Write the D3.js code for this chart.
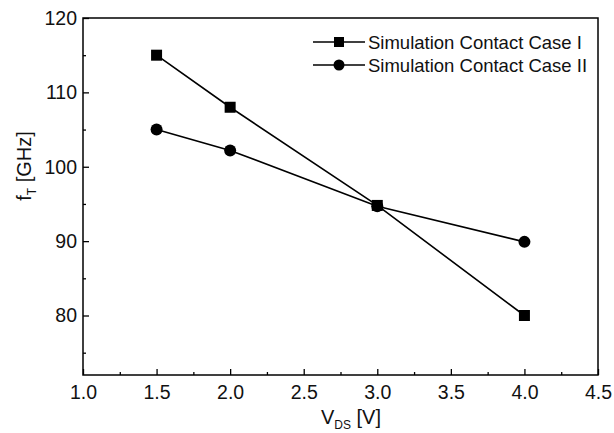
<!DOCTYPE html>
<html><head><meta charset="utf-8">
<script src="https://cdn.jsdelivr.net/npm/d3@7"></script>
<style>body{margin:0;background:#fff}svg{display:block}</style>
</head><body><svg id="c" width="614" height="433"></svg>
<script>
const vds = [1.5, 2.0, 3.0, 4.0];
const caseI = [115, 108, 94.8, 80];
const caseII = [105, 102.2, 94.7, 89.9];
const seriesNames = ["Simulation Contact Case I", "Simulation Contact Case II"];
const xTicks = [1.0, 1.5, 2.0, 2.5, 3.0, 3.5, 4.0, 4.5];
const yTicks = [80, 90, 100, 110, 120];
const xMinor = [1.25, 1.75, 2.25, 2.75, 3.25, 3.75, 4.25];
const yMinor = [75, 85, 95, 105, 115];

const svg = d3.select("#c");
const L = 83, R = 598, T = 18, B = 375;
const x = d3.scaleLinear().domain([1.0, 4.5]).range([L, R]);
const y = d3.scaleLinear().domain([72, 120]).range([B, T]);
const font = "Liberation Sans, Arial, sans-serif";
const fs = 19.5;

// frame
svg.append("rect").attr("x", L).attr("y", T).attr("width", R - L).attr("height", B - T)
  .attr("fill", "none").attr("stroke", "#000").attr("stroke-width", 1.5);

// axes
const gx = svg.append("g").attr("transform", `translate(0,${B})`)
  .call(d3.axisBottom(x).tickValues(xTicks).tickFormat(d3.format(".1f")).tickSizeInner(-6).tickSizeOuter(0).tickPadding(10));
gx.append("g").call(d3.axisBottom(x).tickValues(xMinor).tickFormat("").tickSizeInner(-3).tickSizeOuter(0));
const gy = svg.append("g").attr("transform", `translate(${L},0)`)
  .call(d3.axisLeft(y).tickValues(yTicks).tickFormat(d3.format("d")).tickSizeInner(-6).tickSizeOuter(0).tickPadding(6));
gy.append("g").call(d3.axisLeft(y).tickValues(yMinor).tickFormat("").tickSizeInner(-3).tickSizeOuter(0));
svg.selectAll(".domain").remove();
svg.selectAll(".tick line").attr("stroke", "#000").attr("stroke-width", 1.3);
svg.selectAll(".tick text").attr("font-family", font).attr("font-size", fs).attr("fill", "#111");

// axis titles
const yt = svg.append("text").attr("transform", `translate(31,166) rotate(-90)`)
  .attr("text-anchor", "middle").attr("font-family", font).attr("font-size", 20).attr("fill", "#111");
yt.append("tspan").text("f");
yt.append("tspan").attr("font-size", 12).attr("dy", 5).text("T");
yt.append("tspan").attr("dy", -5).text(" [GHz]");
const xt = svg.append("text").attr("x", 351).attr("y", 424)
  .attr("text-anchor", "middle").attr("font-family", font).attr("font-size", 20).attr("fill", "#111");
xt.append("tspan").text("V");
xt.append("tspan").attr("font-size", 12).attr("dy", 5).text("DS");
xt.append("tspan").attr("dy", -5).text(" [V]");

// lines
const line = d3.line().x(d => x(d[0])).y(d => y(d[1]));
const dI = vds.map((v, i) => [v, caseI[i]]);
const dII = vds.map((v, i) => [v, caseII[i]]);
[dI, dII].forEach(d => svg.append("path").attr("d", line(d)).attr("fill", "none")
  .attr("stroke", "#000").attr("stroke-width", 1.6));
svg.selectAll(".sq").data(dI).join("rect").attr("x", d => x(d[0]) - 5.5).attr("y", d => y(d[1]) - 5.5)
  .attr("width", 11).attr("height", 11).attr("fill", "#000");
svg.selectAll(".ci").data(dII).join("circle").attr("cx", d => x(d[0])).attr("cy", d => y(d[1]))
  .attr("r", 6).attr("fill", "#000");

// legend
const lg = svg.append("g");
seriesNames.forEach((name, i) => {
  const yy = 42 + i * 23;
  lg.append("line").attr("x1", 313).attr("x2", 365).attr("y1", yy).attr("y2", yy).attr("stroke", "#000").attr("stroke-width", 1.6);
  if (i === 0) lg.append("rect").attr("x", 334).attr("y", yy - 5).attr("width", 10).attr("height", 10).attr("fill", "#000");
  else lg.append("circle").attr("cx", 339).attr("cy", yy).attr("r", 5.5).attr("fill", "#000");
  lg.append("text").attr("x", 368).attr("y", yy + 6.5).attr("font-family", font).attr("font-size", 18.5).attr("fill", "#111").text(name);
});
</script></body></html>
